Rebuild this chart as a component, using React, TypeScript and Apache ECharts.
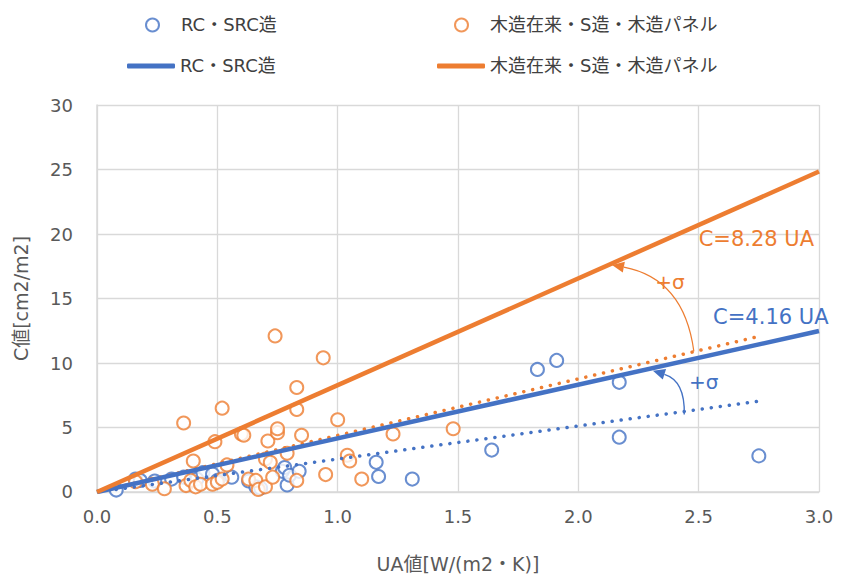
import { useEffect, useRef } from 'react';
import * as echarts from 'echarts';

const BLUE = '#4472C4';
const ORANGE = '#ED7D31';
const FONT = "'DejaVu Sans', 'Noto Sans CJK JP', sans-serif";

const rcName = 'RC・SRC造';
const woodName = '木造在来・S造・木造パネル';

// scatter data [UA, C]
const rcPoints: number[][] = [
  [0.08, 0.15], [0.16, 1.0], [0.18, 0.9], [0.24, 0.85], [0.31, 1.0], [0.36, 1.15],
  [0.415, 1.0], [0.44, 1.5], [0.48, 1.4], [0.5, 0.9], [0.56, 1.15], [0.63, 0.85],
  [0.66, 0.4], [0.68, 0.3], [0.77, 1.6], [0.78, 1.9], [0.79, 0.55], [0.8, 1.3],
  [0.84, 1.6], [1.16, 2.3], [1.17, 1.2], [1.31, 1.0], [1.64, 3.25], [1.83, 9.5],
  [1.91, 10.2], [2.17, 8.5], [2.17, 4.25], [2.75, 2.8],
];
const woodPoints: number[][] = [
  [0.16, 0.8], [0.23, 0.6], [0.28, 0.25], [0.36, 5.35], [0.37, 0.5], [0.39, 0.9],
  [0.4, 2.4], [0.41, 0.4], [0.43, 0.6], [0.48, 0.6], [0.49, 3.9], [0.5, 0.75],
  [0.52, 1.0], [0.52, 6.5], [0.54, 2.1], [0.6, 4.5], [0.61, 4.4], [0.63, 1.0],
  [0.66, 0.9], [0.67, 0.2], [0.7, 0.4], [0.7, 2.55], [0.71, 3.95], [0.72, 2.3],
  [0.73, 1.15], [0.74, 12.1], [0.75, 4.6], [0.75, 4.9], [0.79, 3.0], [0.83, 8.1],
  [0.83, 6.4], [0.83, 0.9], [0.85, 4.4], [0.94, 10.4], [0.95, 1.35], [1.0, 5.6],
  [1.04, 2.85], [1.05, 2.4], [1.1, 1.0], [1.23, 4.5], [1.48, 4.9],
];

// fitted lines C = k * UA
const rcFit: number[][] = [[0, 0], [3.0, 12.48]];
const woodFit: number[][] = [[0, 0], [3.0, 24.84]];
// trend lines (dotted)
const rcTrend: number[][] = [[0.08, 0.2], [2.75, 7.04]];
const woodTrend: number[][] = [[0.08, 0.35], [2.75, 12.06]];

// +σ arrows [from, to]
const woodArrow: number[][] = [[2.48, 10.9], [2.14, 17.6]];
const rcArrow: number[][] = [[2.44, 6.0], [2.31, 9.4]];

// annotation labels
const woodLabel = { text: 'C=8.28 UA', at: [2.5, 19.6] };
const rcLabel = { text: 'C=4.16 UA', at: [2.56, 13.6] };
const woodSigma = { text: '+σ', at: [2.32, 16.3] };
const rcSigma = { text: '+σ', at: [2.46, 8.5] };

const fmt = (n: string) => n.split('#')[0];

export default function App() {
  const ref = useRef<HTMLDivElement>(null);
  useEffect(() => {
    if (!ref.current) return;
    const chart = echarts.init(ref.current, undefined, { renderer: 'svg' });
    const labelPoint = (l: { text: string; at: number[] }, color: string, size: number) => ({
      coord: l.at,
      symbol: 'circle',
      symbolSize: 0,
      label: {
        show: true,
        position: 'right',
        distance: 0,
        formatter: l.text,
        color,
        fontSize: size,
        fontFamily: FONT,
      },
    });
    const legendText = { color: '#404040', fontSize: 18, fontFamily: FONT };
    const ptLegend = {
      itemWidth: 13,
      itemHeight: 13,
      formatter: fmt,
      textStyle: { ...legendText, padding: [0, 0, 0, 17] },
      selectedMode: false,
    };
    const lnLegend = {
      itemWidth: 48,
      itemHeight: 5,
      icon: 'roundRect',
      formatter: fmt,
      textStyle: legendText,
      selectedMode: false,
    };
    chart.setOption({
      animation: false,
      textStyle: { fontFamily: FONT },
      legend: [
        { ...ptLegend, left: 140, top: 11, data: [rcName + '#pt'] },
        { ...ptLegend, left: 449, top: 11, data: [woodName + '#pt'] },
        { ...lnLegend, left: 122, top: 52, data: [rcName + '#ln'] },
        { ...lnLegend, left: 432, top: 52, data: [woodName + '#ln'] },
      ],
      grid: { left: 97, right: 27, top: 105, bottom: 85 },
      xAxis: {
        type: 'value',
        min: 0,
        max: 3,
        interval: 0.5,
        name: 'UA値[W/(m2・K)]',
        nameLocation: 'middle',
        nameGap: 62,
        nameTextStyle: { color: '#595959', fontSize: 19, fontFamily: FONT },
        axisLabel: {
          color: '#595959',
          fontSize: 18,
          margin: 16,
          formatter: (v: number) => v.toFixed(1),
        },
        axisLine: { lineStyle: { color: '#d9d9d9', width: 1.5 } },
        axisTick: { show: false },
        splitLine: { lineStyle: { color: '#d9d9d9', width: 1.3 } },
      },
      yAxis: {
        type: 'value',
        min: 0,
        max: 30,
        interval: 5,
        name: 'C値[cm2/m2]',
        nameLocation: 'middle',
        nameGap: 67,
        nameTextStyle: { color: '#595959', fontSize: 19, fontFamily: FONT },
        axisLabel: { color: '#595959', fontSize: 18, margin: 24 },
        axisLine: { show: true, lineStyle: { color: '#d9d9d9', width: 1.5 } },
        axisTick: { show: false },
        splitLine: { lineStyle: { color: '#d9d9d9', width: 1.3 } },
      },
      series: [
        {
          name: rcName + '#pt',
          type: 'scatter',
          data: rcPoints,
          symbol: 'emptyCircle',
          symbolSize: 13,
          itemStyle: { color: BLUE, borderColor: BLUE, borderWidth: 1.8 },
          z: 2,
        },
        {
          name: woodName + '#pt',
          type: 'scatter',
          data: woodPoints,
          symbol: 'emptyCircle',
          symbolSize: 13,
          itemStyle: { color: ORANGE, borderColor: ORANGE, borderWidth: 1.8 },
          z: 2,
        },
        {
          name: 'rcTrend',
          type: 'line',
          data: rcTrend,
          symbol: 'none',
          lineStyle: { color: BLUE, width: 3.5, type: [0.1, 9], cap: 'round' },
          z: 3,
          markPoint: { silent: true, data: [labelPoint(rcSigma, BLUE, 20)] },
        },
        {
          name: 'woodTrend',
          type: 'line',
          data: woodTrend,
          symbol: 'none',
          lineStyle: { color: ORANGE, width: 3.5, type: [0.1, 9], cap: 'round' },
          z: 3,
          markPoint: { silent: true, data: [labelPoint(woodSigma, ORANGE, 20)] },
        },
        {
          name: rcName + '#ln',
          type: 'line',
          data: rcFit,
          symbol: 'none',
          itemStyle: { color: BLUE },
          lineStyle: { color: BLUE, width: 4.5 },
          z: 4,
          markPoint: { silent: true, data: [labelPoint(rcLabel, BLUE, 21)] },
        },
        {
          name: woodName + '#ln',
          type: 'line',
          data: woodFit,
          symbol: 'none',
          itemStyle: { color: ORANGE },
          lineStyle: { color: ORANGE, width: 4.5 },
          z: 4,
          markPoint: { silent: true, data: [labelPoint(woodLabel, ORANGE, 21)] },
        },
      ],
    });

    // curved +σ arrows, positioned through the chart's own scales
    const curvedArrow = (a: number[][], color: string, width: number, curv: number) => {
      const p1 = chart.convertToPixel({ gridIndex: 0 }, a[0]) as number[];
      const p2 = chart.convertToPixel({ gridIndex: 0 }, a[1]) as number[];
      const cx = (p1[0] + p2[0]) / 2 - (p1[1] - p2[1]) * curv;
      const cy = (p1[1] + p2[1]) / 2 - (p2[0] - p1[0]) * curv;
      const dx = p2[0] - cx;
      const dy = p2[1] - cy;
      const len = Math.sqrt(dx * dx + dy * dy) || 1;
      const ux = dx / len;
      const uy = dy / len;
      const L = 12;
      const W = 5.5;
      const bx = p2[0] - ux * L;
      const by = p2[1] - uy * L;
      return [
        {
          type: 'bezierCurve',
          silent: true,
          z: 10,
          shape: { x1: p1[0], y1: p1[1], x2: bx, y2: by, cpx1: cx, cpy1: cy },
          style: { stroke: color, lineWidth: width, fill: 'none' },
        },
        {
          type: 'polygon',
          silent: true,
          z: 10,
          shape: {
            points: [
              [p2[0], p2[1]],
              [bx - uy * W, by + ux * W],
              [bx + uy * W, by - ux * W],
            ],
          },
          style: { fill: color },
        },
      ];
    };
    chart.setOption({
      graphic: [
        ...curvedArrow(woodArrow, ORANGE, 1.2, -0.36),
        ...curvedArrow(rcArrow, BLUE, 1.4, -0.38),
      ],
    });
    return () => chart.dispose();
  }, []);
  return (
    <div
      ref={ref}
      style={{ position: 'fixed', left: 0, top: 0, width: 846, height: 578, background: '#fff' }}
    />
  );
}
